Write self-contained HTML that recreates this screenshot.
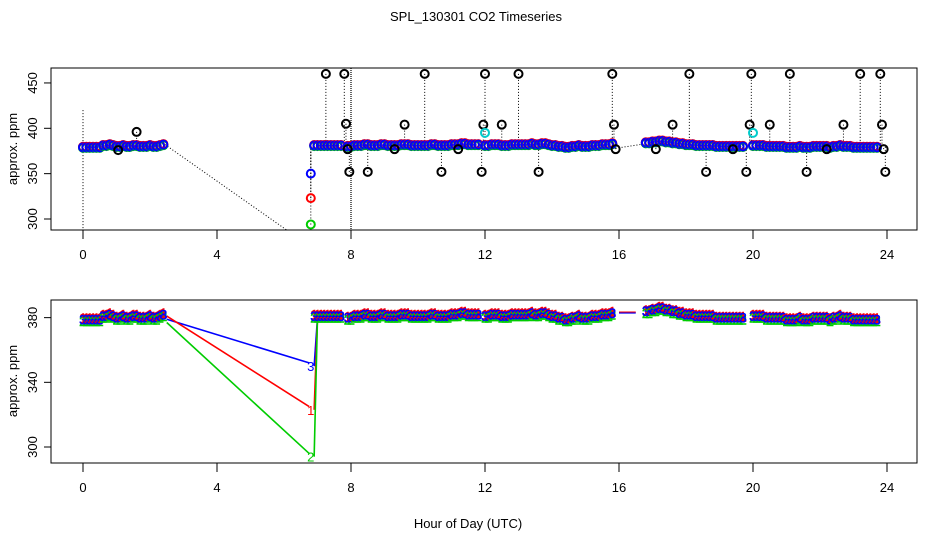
<!DOCTYPE html>
<html><head><meta charset="utf-8"><style>
body{margin:0;background:#fff}
svg{display:block;font-family:"Liberation Sans",sans-serif}
</style></head><body>
<svg id="c" width="936" height="540" viewBox="0 0 936 540">
<text x="476" y="21" font-size="13" text-anchor="middle">SPL_130301  CO2 Timeseries</text>
<text x="468" y="528" font-size="13" text-anchor="middle">Hour of Day (UTC)</text>
<g id="top"></g>
<g id="bot"></g>
</svg>
<script>
const xTicks=[0,4,8,12,16,20,24];
const topYTicks=[300,350,400,450];
const botYTicks=[300,340,380];
const segStarts=[0.0,6.9,7.9,12.0,16.8,20.0];
const segA=[379,379,379,379,379,379,381,381,382,381,380,380,381,380,380,381,381,380,380,380,381,380,380,381,382];
const segB=[381,381,381,381,381,381,381,381,381];
const segC=[380,380,381,381,381,382,382,381,381,381,382,382,381,381,381,381,382,382,382,381,381,381,381,381,381,382,382,381,381,381,381,382,382,382,383,383,382,382,382,382];
const segD=[381,381,382,382,382,381,381,381,382,382,382,382,382,382,383,382,382,383,383,382,381,381,380,380,379,379,380,380,381,380,380,380,381,381,381,382,382,382,383];
const segF=[384,384,385,385,386,386,385,385,384,384,383,383,382,382,382,381,381,381,381,381,381,380,380,380,380,380,380,380,380,380];
const segG=[381,381,381,381,380,380,380,380,380,380,379,379,379,379,380,379,379,379,380,380,380,380,380,379,380,380,381,380,380,380,379,379,379,379,379,379,379,379];
const segs=[segA,segB,segC,segD,segF,segG];
const outT=[1.05,1.6,7.25,7.8,7.85,7.9,7.95,8.5,9.3,9.6,10.2,10.7,11.2,11.9,11.95,12.0,12.5,13.0,13.6,15.8,15.85,15.9,17.1,17.6,18.1,18.6,19.4,19.8,19.9,19.95,20.5,21.1,21.6,22.2,22.7,23.2,23.8,23.85,23.9,23.95];
const outV=[376,396,460,460,405,377,352,352,377,404,460,352,377,352,404,460,404,460,352,460,404,377,377,404,460,352,377,352,404,460,404,460,352,377,404,460,460,404,377,352];
const cyanT=[12.0,20.0];const cyanV=[395,395];
const dropT=[6.8,6.8,6.8];const dropV=[350,323,294];
const dropStartV=[379,381,377];
const sensorColors=['blue','red','#00cc00'];
const sensorLabels=['3','1','2'];
const NS='http://www.w3.org/2000/svg';
const X=t=>83+t*33.5;
const Yt=v=>219-(v-300)*0.907;
const Yb=v=>447-(v-300)*1.617;
function mk(p,tag,a){const e=document.createElementNS(NS,tag);for(const k in a)e.setAttribute(k,a[k]);p.appendChild(e);return e;}
function axes(g,y0,y1,yticks,Y,mid){
 const r=mk(g,'rect',{x:51,y:y0,width:866,height:y1-y0,fill:'none',stroke:'#000'});
 
 
 xTicks.forEach(t=>{mk(g,'line',{x1:X(t),x2:X(t),y1:y1,y2:y1+9,stroke:'#000'});
  const tx=mk(g,'text',{x:X(t),y:y1+29,'font-size':13,'text-anchor':'middle'});tx.textContent=t;
  
  });
 yticks.forEach(v=>{mk(g,'line',{x1:44,x2:51,y1:Y(v),y2:Y(v),stroke:'#000'});
  const tx=mk(g,'text',{x:0,y:0,'font-size':13,'text-anchor':'middle',transform:`translate(37,${Y(v)}) rotate(-90)`});tx.textContent=v;
  
  });
 const yl=mk(g,'text',{x:0,y:0,'font-size':13,'text-anchor':'middle',transform:`translate(17,${mid}) rotate(-90)`});yl.textContent='approx. ppm';
 
 
}
const topG=document.getElementById('top'),botG=document.getElementById('bot');
axes(topG,68,230,topYTicks,Yt,149);
axes(botG,300,463,botYTicks,Yb,381);
const cp=mk(topG,'clipPath',{id:'ct'});mk(cp,'rect',{x:51,y:68,width:866,height:162});
const tg=mk(topG,'g',{'clip-path':'url(#ct)'});
mk(tg,'line',{x1:X(0),x2:X(0),y1:Yt(420),y2:230,stroke:'#000','stroke-dasharray':'1,2'});
mk(tg,'line',{x1:X(8),x2:X(8),y1:68,y2:230,stroke:'#000','stroke-width':1.2,'stroke-dasharray':'1,1'});
mk(tg,'line',{x1:X(2.45),x2:X(6.15),y1:Yt(382),y2:Yt(286),stroke:'#000','stroke-dasharray':'1,2'});
mk(tg,'line',{x1:X(15.9),x2:X(16.8),y1:Yt(378),y2:Yt(383),stroke:'#000','stroke-dasharray':'1,2'});
outT.forEach((t,i)=>{mk(tg,'line',{x1:X(t),x2:X(t),y1:Yt(outV[i]),y2:Yt(381),stroke:'#000','stroke-dasharray':'1,2'});});
dropT.forEach((t,i)=>{mk(tg,'line',{x1:X(t),x2:X(t),y1:Yt(dropV[i]),y2:Yt(381),stroke:'#000','stroke-dasharray':'1,2'});});
segs.forEach((s,si)=>s.forEach((v,i)=>{const t=segStarts[si]+i*0.1;
 [['#00cc00',-0.6],['red',0.6],['blue',0]].forEach(([c,o])=>{
  const e=mk(tg,'circle',{cx:X(t),cy:Yt(v+o),r:4,fill:'none',stroke:c,'stroke-width':2});
  
  });}));
outT.forEach((t,i)=>{const e=mk(tg,'circle',{cx:X(t),cy:Yt(outV[i]),r:4,fill:'none',stroke:'#000','stroke-width':2});
 
 });
cyanT.forEach((t,i)=>{const e=mk(tg,'circle',{cx:X(t),cy:Yt(cyanV[i]),r:4,fill:'none',stroke:'#00cccc','stroke-width':2});
 
 });
dropT.forEach((t,i)=>{const e=mk(tg,'circle',{cx:X(t),cy:Yt(dropV[i]),r:4,fill:'none',stroke:sensorColors[i],'stroke-width':2});
 
 });
dropT.forEach((t,i)=>{
 const l=mk(botG,'line',{x1:X(2.5),x2:X(t-0.05),y1:Yb(dropStartV[i]),y2:Yb(dropV[i]+2),stroke:sensorColors[i],'stroke-width':1.6});
 
 
 mk(botG,'line',{x1:X(t+0.1),x2:X(t+0.2),y1:Yb(dropV[i]),y2:Yb(380),stroke:sensorColors[i],'stroke-width':1.6});
 const tx=mk(botG,'text',{x:X(t),y:Yb(dropV[i])+5,'font-size':13,'text-anchor':'middle',fill:sensorColors[i]});tx.textContent=sensorLabels[i];
 
 });
mk(botG,'line',{x1:X(16),x2:X(16.5),y1:Yb(383),y2:Yb(383),stroke:'blue','stroke-width':1.6});
mk(botG,'line',{x1:X(16),x2:X(16.5),y1:Yb(383.5),y2:Yb(383.5),stroke:'red','stroke-width':1});
segs.forEach((s,si)=>s.forEach((v,i)=>{const t=segStarts[si]+i*0.1;
 [[2,-1],[1,0.8],[0,0]].forEach(([k,o])=>{
  const tx=mk(botG,'text',{x:X(t),y:Yb(v+o)+5,'font-size':14,'text-anchor':'middle',fill:sensorColors[k],stroke:sensorColors[k],'stroke-width':0.5});tx.textContent=sensorLabels[k];
  
  });}));
</script>
</body></html>
